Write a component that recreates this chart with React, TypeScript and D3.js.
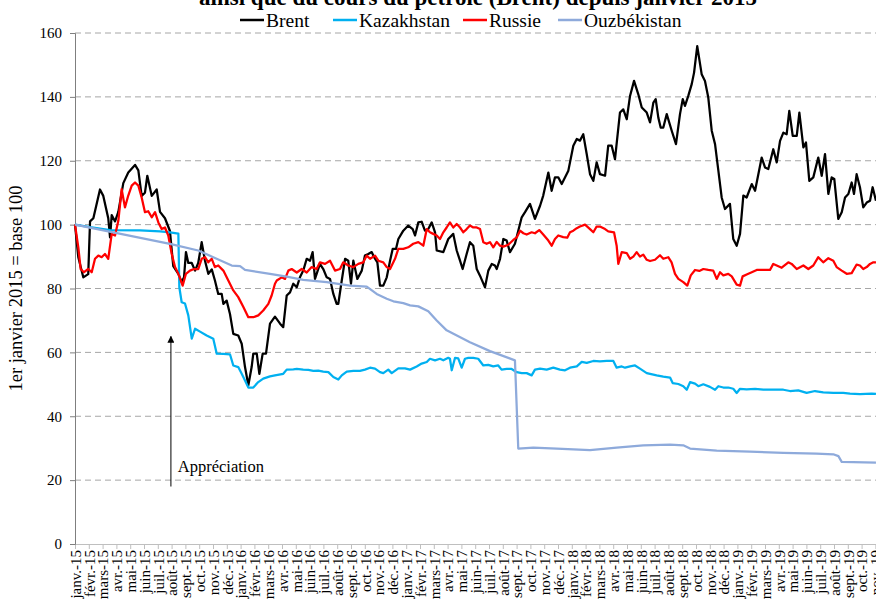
// Taux de change (base 100) et cours du Brent depuis janvier 2015
import React, { useEffect, useRef } from 'react';
import * as d3 from 'd3';

// [mois depuis janv. 2015, indice]
const brent: [number, number][] = [
  [0, 100], [0.24, 89.8], [0.6, 83.5], [0.96, 84.5], [1.09, 101], [1.33, 102], [1.81, 111], [2.05, 109],
  [2.41, 102], [2.54, 96], [2.66, 103], [2.9, 101], [3.14, 104], [3.5, 113], [3.86, 116.3], [4.35, 118.7],
  [4.59, 117], [4.83, 109], [5.07, 110], [5.24, 115.3], [5.56, 109], [5.92, 111], [6.16, 104], [6.52, 102],
  [6.88, 98], [7.01, 92], [7.12, 87], [7.49, 84.6], [7.73, 82], [7.9, 83.5], [8.04, 91.4], [8.21, 88],
  [8.46, 88], [8.7, 85.6], [8.93, 88], [9.18, 94.5], [9.42, 88.7], [9.66, 84.6], [9.91, 86], [10.14, 82.5],
  [10.38, 78.3], [10.63, 78.3], [10.75, 75.2], [10.99, 76.2], [11.23, 72], [11.47, 65.8], [11.83, 65.3],
  [12.08, 62.7], [12.32, 55.4], [12.56, 49.7], [12.8, 55.4], [12.92, 59.6], [13.17, 59.6], [13.36, 53.3],
  [13.6, 59.6], [13.84, 59.6], [14.13, 69], [14.49, 71.2], [14.86, 69], [15.09, 67.9], [15.34, 77.8],
  [15.58, 78.8], [15.82, 81.5], [16.07, 80.4], [16.3, 83.5], [16.54, 85.6], [16.79, 89.3], [17.03, 88.7],
  [17.22, 91.4], [17.39, 83], [17.75, 87.7], [17.99, 86.1], [18.24, 83.5], [18.48, 83], [18.72, 78.3],
  [18.96, 75.2], [19.08, 75.2], [19.33, 82.5], [19.57, 89.3], [19.8, 88.7], [20.0, 81.5], [20.17, 88.7],
  [20.46, 83], [20.78, 85.6], [21.01, 90.3], [21.25, 90.8], [21.5, 91.4], [21.67, 89.8], [21.91, 88.2],
  [22.1, 80.9], [22.34, 80.9], [22.59, 83.5], [22.83, 88.7], [23.02, 92.4], [23.26, 92.4], [23.43, 95.5],
  [23.79, 98.1], [24.15, 99.7], [24.47, 98.6], [24.64, 96.6], [24.88, 100.7], [25.12, 100.9], [25.36, 98.1],
  [25.6, 98.6], [25.85, 100.7], [26.09, 97.6], [26.21, 91.9], [26.69, 91.4], [27.05, 95.5], [27.41, 97.1],
  [27.66, 91.9], [27.9, 88.7], [28.09, 86.1], [28.38, 90.8], [28.62, 94.5], [28.86, 93.4], [29.11, 86.1],
  [29.4, 83.5], [29.71, 80.4], [29.95, 85.6], [30.2, 87.7], [30.43, 87.2], [30.56, 86.1], [30.8, 89.3],
  [31.04, 95.5], [31.28, 95], [31.52, 91.4], [31.88, 94], [32.37, 102.3], [32.61, 103.9], [32.97, 106.5],
  [33.33, 101.8], [33.7, 105.9], [33.93, 109.1], [34.3, 116.3], [34.54, 110.6], [34.78, 114.8], [35.02, 114.8],
  [35.27, 112.7], [35.75, 116.9], [36.11, 124.7], [36.36, 126.8], [36.59, 126.3], [36.83, 128.3],
  [37.08, 122.1], [37.32, 115.8], [37.56, 113.7], [37.8, 119.5], [38.04, 115.8], [38.41, 115.3],
  [38.64, 124.7], [38.89, 124.7], [39.13, 120.5], [39.49, 135.1], [39.73, 136.1], [39.98, 133], [40.22, 140.3],
  [40.51, 145], [40.82, 140.8], [41.07, 136.7], [41.43, 135.1], [41.67, 132], [41.91, 138.2], [42.08, 139.3],
  [42.27, 133.5], [42.44, 130.4], [42.63, 130.4], [42.88, 134.6], [43.24, 129.4], [43.55, 125.2],
  [43.84, 134.6], [44.04, 139.3], [44.2, 137.2], [44.44, 140.3], [44.69, 144], [44.86, 147.6], [45.09, 155.9],
  [45.41, 147.1], [45.65, 145], [45.89, 139.8], [46.14, 129.4], [46.38, 125.2], [46.62, 116.9], [46.86, 108.5],
  [47.1, 104.9], [47.46, 106.5], [47.7, 95.5], [47.95, 93.4], [48.19, 97.1], [48.43, 109.1], [48.67, 108.5],
  [49.04, 112.7], [49.28, 110.6], [49.76, 121], [50.0, 117.9], [50.24, 117.4], [50.6, 123.6], [50.85, 119.5],
  [51.09, 126.2], [51.33, 128.8], [51.57, 128.3], [51.76, 135.6], [52.01, 127.8], [52.3, 127.8], [52.49, 135.1],
  [52.78, 124.2], [52.97, 125.7], [53.21, 113.7], [53.5, 114.8], [53.86, 121], [54.11, 115.3], [54.35, 122.1],
  [54.59, 109.6], [54.83, 114.8], [55.02, 114.3], [55.31, 101.8], [55.56, 103.9], [55.8, 108.5], [56.04, 109.6],
  [56.28, 113.2], [56.45, 109.6], [56.64, 115.8], [56.88, 111.7], [57.12, 105.4], [57.37, 106.9], [57.61, 107.5],
  [57.8, 111.7], [58.04, 107.5],
];

const kazakhstan: [number, number][] = [
  [0, 100], [1.09, 99.2], [2.54, 98.3], [4.71, 98.2], [6.16, 97.9], [6.88, 97.6], [7.49, 97.2], [7.56, 80.4],
  [7.73, 75.7], [7.97, 75.3], [8.21, 71.6], [8.46, 64.3], [8.7, 67.4], [9.06, 66.5], [9.54, 65.3], [10.02, 64.3],
  [10.27, 59.6], [10.75, 59.5], [11.23, 59.4], [11.47, 55.9], [11.83, 55.4], [12.08, 53.3], [12.32, 51.2],
  [12.56, 49], [12.92, 49], [13.28, 50.7], [13.64, 51.8], [14.13, 52.5], [14.49, 52.8], [15.09, 53.3],
  [15.34, 54.6], [15.82, 54.7], [16.07, 54.8], [16.54, 54.6], [16.91, 54.5], [17.27, 54.2], [17.63, 54.3],
  [17.99, 54], [18.36, 53.8], [18.72, 52.3], [19.08, 51.5], [19.33, 52.8], [19.69, 54], [20.17, 54.2],
  [20.65, 54.2], [21.01, 54.6], [21.38, 55.2], [21.74, 54.9], [22.1, 53.8], [22.34, 53.5], [22.7, 54.6],
  [22.95, 53.5], [23.43, 55], [23.91, 55], [24.28, 54.6], [24.76, 55.6], [25.12, 56.5], [25.49, 57],
  [25.72, 58], [26.09, 57.5], [26.45, 58], [26.69, 57.5], [27.05, 58.3], [27.17, 58], [27.3, 54.4],
  [27.54, 58.3], [27.77, 58.1], [28.02, 55.2], [28.26, 58], [28.5, 58.3], [28.86, 58.3], [29.22, 58],
  [29.59, 55.9], [29.95, 56.1], [30.31, 55.6], [30.67, 55.9], [30.91, 54.6], [31.28, 54.8], [31.64, 54.8],
  [32.01, 53.8], [32.37, 53.5], [32.73, 53.5], [33.09, 52.8], [33.33, 54.6], [33.7, 54.9], [34.18, 54.6],
  [34.66, 55.2], [35.14, 54.6], [35.51, 54.4], [35.87, 55.2], [36.36, 55.6], [36.72, 57], [37.08, 56.7],
  [37.56, 57.3], [38.04, 57.2], [38.53, 57.3], [39.01, 57.3], [39.25, 55.2], [39.62, 55.6], [39.86, 55.2],
  [40.22, 55.6], [40.58, 55.9], [40.94, 54.9], [41.43, 53.5], [42.15, 52.8], [42.63, 52.4], [43.12, 52.1],
  [43.31, 50.4], [43.72, 50.1], [44.08, 49.4], [44.33, 48.3], [44.57, 50.7], [44.93, 50.2], [45.17, 49.4],
  [45.53, 50], [46.01, 49.2], [46.38, 48.3], [46.62, 49.4], [46.98, 49], [47.34, 49], [47.7, 48.6],
  [47.95, 47.3], [48.19, 48.6], [48.67, 48.4], [49.28, 48.6], [49.88, 48.3], [50.6, 48.3], [51.33, 48.3],
  [51.81, 47.9], [52.41, 48.1], [53.02, 47.3], [53.62, 47.9], [54.22, 47.5], [54.95, 47.3], [55.67, 47.3],
  [56.16, 47.1], [56.88, 46.9], [57.73, 47.1], [58.04, 47],
];

const russie: [number, number][] = [
  [0, 100], [0.24, 92.9], [0.41, 86.1], [0.65, 85.1], [0.96, 86.1], [1.21, 85.1], [1.45, 89.3], [1.69, 90.3],
  [1.93, 89.8], [2.17, 90.8], [2.41, 89.3], [2.66, 97.1], [2.9, 96.6], [3.14, 101.2], [3.38, 111.1],
  [3.62, 105.4], [3.86, 109.1], [4.11, 112.2], [4.35, 113.2], [4.59, 112.2], [4.83, 108.5], [5.07, 103.9],
  [5.31, 104.2], [5.56, 102.3], [5.8, 103.9], [6.04, 100.7], [6.28, 98.6], [6.52, 99.1], [6.76, 96.6],
  [7.01, 90.8], [7.25, 86.7], [7.49, 84.6], [7.8, 80.9], [8.04, 84.6], [8.33, 85.6], [8.62, 86.1], [8.93, 86.1],
  [9.18, 89.3], [9.42, 89.8], [9.66, 88.2], [9.91, 89.3], [10.14, 86.7], [10.38, 87.2], [10.75, 85.6],
  [11.11, 82.5], [11.47, 79.4], [11.83, 77.3], [12.2, 74.2], [12.56, 71], [12.92, 71], [13.28, 71.6],
  [13.64, 73.1], [14.01, 75.2], [14.25, 77.8], [14.49, 81.5], [14.62, 82.5], [14.98, 83.5], [15.22, 83],
  [15.46, 85.6], [15.7, 86.1], [16.07, 85], [16.43, 86.1], [16.79, 85], [17.15, 86.7], [17.51, 86.1],
  [17.75, 88.2], [18.12, 87.7], [18.48, 88.7], [18.84, 85.6], [19.2, 86.1], [19.44, 88.2], [19.8, 87.2],
  [20.17, 86.7], [20.53, 87.7], [20.89, 88.2], [21.14, 90.3], [21.38, 89.3], [21.74, 90.3], [21.98, 88.7],
  [22.34, 88.2], [22.59, 86.7], [22.83, 86.1], [23.19, 89.3], [23.43, 92.4], [23.79, 92.4], [24.15, 92.9],
  [24.51, 94], [24.88, 94.5], [25.24, 93.4], [25.49, 98.6], [25.72, 97.6], [25.96, 97.1], [26.21, 96.6],
  [26.45, 95.5], [26.69, 97.6], [26.93, 99.1], [27.17, 100.7], [27.41, 99.1], [27.66, 100.2], [27.9, 99.1],
  [28.14, 97.6], [28.38, 98.6], [28.62, 99.7], [28.86, 99.1], [29.11, 99.1], [29.35, 98.6], [29.59, 94.5],
  [29.83, 94], [30.07, 94.5], [30.31, 92.9], [30.56, 94.6], [30.8, 93.4], [31.04, 93.1], [31.4, 93.7],
  [31.76, 95.2], [32.01, 96], [32.25, 98.1], [32.49, 97.3], [32.73, 96.9], [33.09, 97.6], [33.33, 97.3],
  [33.64, 98.3], [33.93, 96.9], [34.3, 95], [34.54, 93.4], [34.78, 95.5], [35.02, 96.6], [35.38, 96.1],
  [35.67, 95.9], [35.87, 97.6], [36.11, 98.1], [36.36, 98.9], [36.59, 99.4], [36.96, 100], [37.32, 98.6],
  [37.56, 97.6], [37.8, 99.4], [38.04, 99.4], [38.41, 98.6], [38.64, 97.9], [39.06, 97.6], [39.25, 93.4],
  [39.37, 87.7], [39.62, 91.4], [39.98, 91.1], [40.22, 89.3], [40.46, 90], [40.7, 91.4], [40.94, 90],
  [41.18, 90.6], [41.43, 89], [41.67, 88.6], [42.03, 89], [42.39, 90.4], [42.63, 89.3], [42.99, 89.8],
  [43.23, 88.2], [43.48, 84.6], [43.72, 83], [44.08, 82], [44.37, 80.9], [44.62, 84.1], [44.93, 85.8],
  [45.24, 85.5], [45.53, 86.1], [45.89, 85.8], [46.25, 85.6], [46.5, 83], [46.74, 85.1], [46.98, 84.1],
  [47.34, 84.6], [47.59, 83.8], [47.95, 81.2], [48.19, 80.9], [48.38, 83.8], [48.67, 84.4], [49.04, 85.1],
  [49.4, 85.8], [49.88, 85.8], [50.36, 85.8], [50.6, 87.7], [50.85, 87.2], [51.21, 86.5], [51.69, 88.2],
  [51.93, 87.7], [52.3, 86.1], [52.78, 87.2], [53.14, 86.1], [53.5, 87.2], [53.86, 89.8], [54.22, 88.2],
  [54.59, 89.5], [54.95, 88.7], [55.19, 86.7], [55.56, 85.6], [55.92, 84.6], [56.28, 84.8], [56.64, 87.5],
  [56.88, 87.2], [57.12, 86.1], [57.37, 86.7], [57.61, 87.7], [57.85, 88.2], [58.04, 88.2],
];

const ouzbekistan: [number, number][] = [
  [0, 100], [6.88, 94], [8.93, 91.9], [10.02, 89.8], [11.36, 87.2], [11.96, 87], [12.32, 85.8], [14.13, 84.6],
  [15.34, 83.7], [16.54, 82.7], [18.24, 82], [18.96, 81.5], [19.93, 80.9], [21.14, 80.6], [21.86, 78.3],
  [22.59, 76.8], [23.07, 76], [23.79, 75.4], [24.28, 74.7], [24.88, 74.4], [25.6, 72.9], [26.21, 70],
  [26.93, 66.9], [28.62, 63.2], [30.07, 60.4], [31.88, 57.5], [32.12, 29.9], [33.21, 30.2], [34.91, 29.9],
  [37.32, 29.4], [39.25, 30.2], [41.18, 30.9], [43.12, 31.1], [44.08, 30.9], [44.57, 29.9], [46.5, 29.2],
  [48.91, 28.9], [51.33, 28.5], [53.73, 28.3], [54.95, 28.1], [55.32, 27.5], [55.56, 25.7], [58.04, 25.5],
];

const series = [
  { name: 'Brent', color: '#000000', data: brent },
  { name: 'Kazakhstan', color: '#00b0f0', data: kazakhstan },
  { name: 'Russie', color: '#ff0000', data: russie },
  { name: 'Ouzbékistan', color: '#8eaadb', data: ouzbekistan },
];

const moisLabels = ['janv.', 'févr.', 'mars', 'avr.', 'mai', 'juin', 'juil.', 'août', 'sept.', 'oct.', 'nov.', 'déc.'];
const annees = ['15', '16', '17', '18', '19'];
const nbMois = 59; // janv.-15 .. nov.-19
const yTicks = [0, 20, 40, 60, 80, 100, 120, 140, 160];

const App: React.FC = () => {
  const svgRef = useRef<SVGSVGElement>(null);

  useEffect(() => {
    const svg = d3.select(svgRef.current);
    svg.selectAll('*').remove();

    const width = 876;
    const height = 600;
    const margin = { top: 33, left: 75, bottom: 56 };
    const step = 13.8;
    const font = '"Liberation Serif", "Times New Roman", serif';

    const x = d3
      .scaleLinear()
      .domain([0, nbMois])
      .range([margin.left, margin.left + nbMois * step]);
    const y = d3
      .scaleLinear()
      .domain([0, 160])
      .range([height - margin.bottom, margin.top]);

    // gridlines
    svg
      .append('g')
      .selectAll('line')
      .data(yTicks.filter((d) => d > 0))
      .join('line')
      .attr('x1', margin.left)
      .attr('x2', width)
      .attr('y1', (d) => y(d))
      .attr('y2', (d) => y(d))
      .attr('stroke', '#a6a6a6')
      .attr('stroke-width', 1)
      .attr('stroke-dasharray', '6,4');

    // x axis
    const monthIdx = d3.range(nbMois);
    const xAxis = d3
      .axisBottom(x)
      .tickValues(monthIdx)
      .tickSize(5)
      .tickFormat((d) => {
        const i = d as number;
        return `${moisLabels[i % 12]}-${annees[Math.floor(i / 12)]}`;
      });
    const gx = svg
      .append('g')
      .attr('transform', `translate(0, ${y(0)})`)
      .call(xAxis);
    gx.select('.domain').attr('stroke', '#bfbfbf').attr('d', `M${margin.left},0.5H${width}`);
    gx.selectAll('.tick line').attr('stroke', '#bfbfbf');
    gx.selectAll('.tick text')
      .attr('transform', 'rotate(-90)')
      .attr('x', -6)
      .attr('y', 0)
      .attr('dy', '0.35em')
      .attr('text-anchor', 'end')
      .attr('fill', '#000')
      .style('font-family', font)
      .style('font-size', '15px');

    // y axis
    const gy = svg
      .append('g')
      .attr('transform', `translate(${margin.left}, 0)`)
      .call(d3.axisLeft(y).tickValues(yTicks).tickSize(5));
    gy.select('.domain').attr('stroke', '#7f7f7f');
    gy.selectAll('.tick line').attr('stroke', '#7f7f7f');
    gy.selectAll('.tick text')
      .attr('x', -13)
      .attr('fill', '#000')
      .style('font-family', font)
      .style('font-size', '15px');

    svg
      .append('text')
      .attr('transform', `translate(22, ${y(80)}) rotate(-90)`)
      .attr('text-anchor', 'middle')
      .style('font-family', font)
      .style('font-size', '18.5px')
      .text('1er janvier 2015 = base 100');

    // lines
    const line = d3
      .line<[number, number]>()
      .x((d) => x(d[0]))
      .y((d) => y(d[1]));

    series.forEach((s) => {
      svg
        .append('path')
        .datum(s.data)
        .attr('fill', 'none')
        .attr('stroke', s.color)
        .attr('stroke-width', 2.25)
        .attr('stroke-linejoin', 'round')
        .attr('d', line);
    });

    // annotation
    svg
      .append('defs')
      .append('marker')
      .attr('id', 'fleche')
      .attr('viewBox', '0 0 10 10')
      .attr('refX', 9)
      .attr('refY', 5)
      .attr('markerWidth', 7)
      .attr('markerHeight', 7)
      .attr('orient', 'auto')
      .append('path')
      .attr('d', 'M0,0L10,5L0,10z')
      .attr('fill', '#000');
    svg
      .append('line')
      .attr('x1', x(6.95))
      .attr('x2', x(6.95))
      .attr('y1', y(18))
      .attr('y2', y(65))
      .attr('stroke', '#000')
      .attr('stroke-width', 1)
      .attr('marker-end', 'url(#fleche)');
    svg
      .append('text')
      .attr('x', x(7.45))
      .attr('y', y(22.5))
      .style('font-family', font)
      .style('font-size', '16.5px')
      .text('Appréciation');

    // title (cut at the top)
    svg
      .append('text')
      .attr('x', 478)
      .attr('y', 5)
      .attr('text-anchor', 'middle')
      .style('font-family', font)
      .style('font-size', '23px')
      .style('font-weight', 'bold')
      .text('ainsi que du cours du pétrole (Brent) depuis janvier 2015');

    // legend
    const legendX = [240, 333, 463, 558];
    const legend = svg.append('g').attr('transform', 'translate(0, 20)');
    series.forEach((s, i) => {
      const g = legend.append('g').attr('transform', `translate(${legendX[i]}, 0)`);
      g.append('line')
        .attr('x1', 0)
        .attr('x2', 24)
        .attr('y1', 0)
        .attr('y2', 0)
        .attr('stroke', s.color)
        .attr('stroke-width', 2.5);
      g.append('text')
        .attr('x', 26)
        .attr('y', 0)
        .attr('dy', '0.35em')
        .style('font-family', font)
        .style('font-size', '19.5px')
        .text(s.name);
    });
  }, []);

  return (
    <div style={{ position: 'absolute', left: 0, top: 0, width: 876, height: 600, background: '#fff' }}>
      <svg ref={svgRef} width={876} height={600} style={{ display: 'block' }}></svg>
    </div>
  );
};

export default App;
